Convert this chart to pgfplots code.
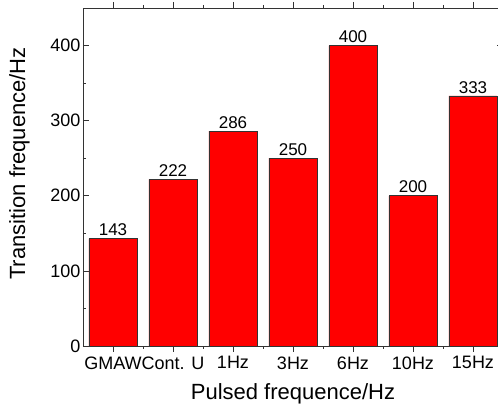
\documentclass[border=0pt]{standalone}
\usepackage{pgfplots}
\pgfplotsset{compat=1.18}
\usepackage{fontspec}
\setmainfont{Liberation Sans}
\usetikzlibrary{calc}
\begin{document}
\begin{tikzpicture}
\begin{axis}[
  scale only axis,
  width=420pt, height=338pt,
  xmin=-0.5, xmax=6.5,
  ymin=0, ymax=450,
  ybar, bar width=48pt,
  xtick={0,1,2,3,4,5,6},
  xticklabels={GMAW,Cont. U,1Hz,3Hz,6Hz,10Hz,15Hz},
  minor xtick={0.5,1.5,2.5,3.5,4.5,5.5},
  ytick={0,100,200,300,400},
  minor ytick={50,150,250,350},
  major tick length=6pt, minor tick length=3pt,
  tick style={black!80, line width=0.6pt},
  axis line style={black!80, line width=0.8pt},
  /pgf/number format/assume math mode=true,
  ticklabel style={font=\fontsize{18}{21}\selectfont},
  xticklabel style={yshift=-1pt},
  yticklabel style={xshift=1pt},
  xlabel={Pulsed frequence/Hz},
  ylabel={Transition frequence/Hz},
  label style={font=\fontsize{22}{26}\selectfont},
  xlabel style={yshift=-7pt},
  ylabel style={at={(ticklabel cs:0.54)}, yshift=14pt},
  nodes near coords,
  nodes near coords style={font=\fontsize{17}{20}\selectfont, black, yshift=-1pt},
]
\addplot[fill=red, draw=black!80, line width=0.6pt] coordinates {
  (0,143) (1,222) (2,286) (3,250) (4,400) (5,200) (6,333)
};
\end{axis}
\pgfresetboundingbox
\path ($(current axis.south west)+(-83pt,-60pt)$) rectangle ($(current axis.north west)+(415pt,8pt)$);
\end{tikzpicture}
\end{document}
